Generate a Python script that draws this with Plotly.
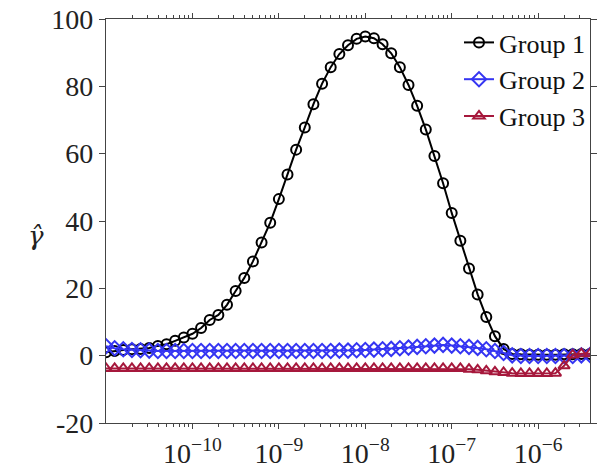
import plotly.graph_objects as go

# exponents of the x grid (10 points per decade)
exponents = [-11.0, -10.9, -10.8, -10.7, -10.6, -10.5, -10.4, -10.3, -10.2, -10.1,
             -10.0, -9.9, -9.8, -9.7, -9.6, -9.5, -9.4, -9.3, -9.2, -9.1,
             -9.0, -8.9, -8.8, -8.7, -8.6, -8.5, -8.4, -8.3, -8.2, -8.1,
             -8.0, -7.9, -7.8, -7.7, -7.6, -7.5, -7.4, -7.3, -7.2, -7.1,
             -7.0, -6.9, -6.8, -6.7, -6.6, -6.5, -6.4, -6.3, -6.2, -6.1,
             -6.0, -5.9, -5.8, -5.7, -5.6, -5.5, -5.4]
x_vals = [10 ** e for e in exponents]

group1 = [1.0, 1.4, 1.7, 1.9, 2.0, 2.3, 2.9, 3.4, 4.4, 5.4,
          6.5, 8.2, 10.6, 12.1, 15.1, 19.2, 23.1, 28.0, 33.6, 39.5,
          46.5, 53.8, 61.2, 67.8, 74.7, 80.8, 85.7, 89.6, 92.2, 94.1,
          94.8, 94.3, 92.5, 89.8, 85.7, 80.4, 74.2, 67.2, 59.3, 51.2,
          42.4, 34.1, 25.9, 18.2, 11.5, 5.8, 2.0, 0.5, 0.4, 0.3,
          0.3, 0.3, 0.3, 0.4, 0.4, 0.5, 0.5]
group2 = [2.8, 2.2, 1.9, 1.7, 1.6, 1.5, 1.4, 1.4, 1.4, 1.4,
          1.4, 1.4, 1.4, 1.4, 1.4, 1.4, 1.4, 1.4, 1.4, 1.4,
          1.4, 1.4, 1.4, 1.4, 1.4, 1.4, 1.4, 1.5, 1.5, 1.6,
          1.7, 1.8, 1.9, 2.0, 2.2, 2.4, 2.6, 2.8, 3.0, 3.2,
          3.0, 2.8, 2.6, 2.3, 1.9, 1.4, 0.8, 0.1, -0.1, -0.1,
          -0.1, -0.1, -0.1, -0.1, -0.1, 0.1, 0.2]
group3 = [-3.8, -3.8, -3.8, -3.8, -3.8, -3.8, -3.8, -3.8, -3.8, -3.8,
          -3.8, -3.8, -3.8, -3.8, -3.8, -3.8, -3.8, -3.8, -3.8, -3.8,
          -3.8, -3.8, -3.8, -3.8, -3.8, -3.8, -3.8, -3.8, -3.8, -3.8,
          -3.8, -3.8, -3.8, -3.8, -3.8, -3.8, -3.8, -3.8, -3.8, -3.8,
          -3.8, -3.8, -4.0, -4.2, -4.5, -4.8, -5.0, -5.2, -5.3, -5.3,
          -5.3, -5.3, -5.2, -3.0, 0.2, 0.6, 0.6]

series_names = ["Group 1", "Group 2", "Group 3"]
x_tick_vals = [1e-10, 1e-9, 1e-8, 1e-7, 1e-6]
x_tick_text = ["10<sup>−10</sup>", "10<sup>−9</sup>", "10<sup>−8</sup>",
               "10<sup>−7</sup>", "10<sup>−6</sup>"]
y_tick_vals = [-20, 0, 20, 40, 60, 80, 100]
y_tick_text = ["-20", "0", "20", "40", "60", "80", "100"]

minor_vals = []
for d in range(-11, -5):
    for m in range(2, 10):
        v = m * 10 ** d
        if v < 10 ** -5.4:
            minor_vals.append(v)

FONT = "Liberation Serif"
colors = ["#000000", "#3535f2", "#a6183c"]
symbols = ["circle-open", "diamond-open", "triangle-up-open"]
sizes = [10, 11, 10]

fig = go.Figure()
for name, ys, c, s, sz in zip(series_names, [group1, group2, group3], colors, symbols, sizes):
    fig.add_trace(go.Scatter(
        x=x_vals, y=ys, name=name, mode="lines+markers",
        line=dict(color=c, width=2),
        marker=dict(symbol=s, size=sz, color=c, line=dict(width=2, color=c)),
    ))

axis_color = "#444444"
fig.update_layout(
    width=600, height=472,
    margin=dict(l=106, r=3, t=19, b=45),
    paper_bgcolor="white", plot_bgcolor="white",
    font=dict(family=FONT, size=27, color="#222222"),
    showlegend=True,
    legend=dict(x=1.0, xanchor="right", y=1.0, yanchor="top",
                bgcolor="rgba(0,0,0,0)", font=dict(family=FONT, size=26, color="#111111"),
                itemwidth=30, tracegroupgap=0),
    xaxis=dict(
        type="log", range=[-11, -5.4],
        tickvals=x_tick_vals, ticktext=x_tick_text,
        showgrid=False, zeroline=False,
        showline=True, linecolor=axis_color, linewidth=1.3, mirror="ticks",
        ticks="outside", ticklen=5, tickcolor=axis_color, tickwidth=1.3,
        tickfont=dict(family=FONT, size=28, color="#222222"),
        minor=dict(tickvals=minor_vals, ticks="outside", ticklen=3,
                   tickcolor=axis_color, tickwidth=1, showgrid=False),
    ),
    yaxis=dict(
        range=[-20, 100],
        tickvals=y_tick_vals, ticktext=y_tick_text,
        showgrid=False, zeroline=False,
        showline=True, linecolor=axis_color, linewidth=1.3, mirror="ticks",
        ticks="outside", ticklen=6, tickcolor=axis_color, tickwidth=1.3,
        tickfont=dict(family=FONT, size=28, color="#222222"),
    ),
    annotations=[
        dict(text="<i>γ\u0302</i>", x=-0.145, y=0.463, xref="paper", yref="paper",
             showarrow=False, font=dict(family="DejaVu Serif", size=26, color="#222222"),
             xanchor="center", yanchor="middle"),
    ],
)

fig.write_html("out.html")
